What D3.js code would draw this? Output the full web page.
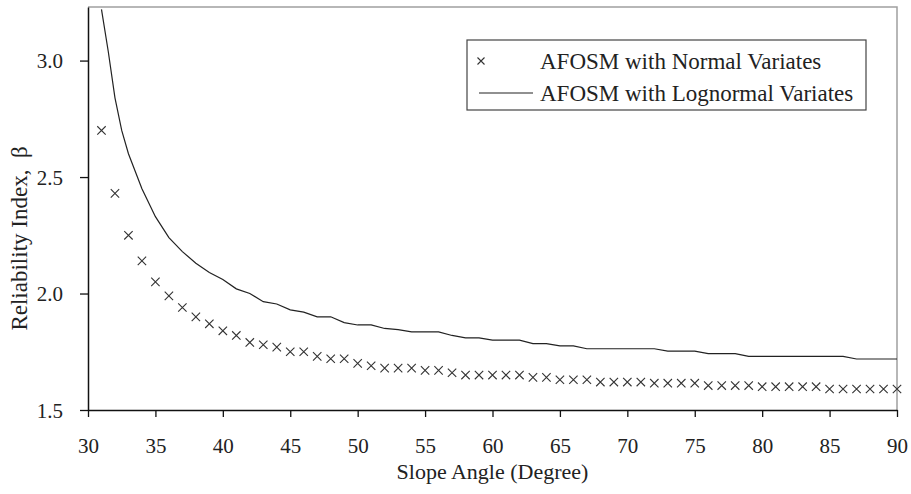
<!DOCTYPE html>
<html>
<head>
<meta charset="utf-8">
<script src="https://cdn.jsdelivr.net/npm/d3@7"></script>
<style>
  body { margin: 0; background: #fff; }
  svg text { font-family: "Liberation Serif", "Times New Roman", serif; fill: #222; }
</style>
</head>
<body>
<div id="chart"></div>
<script>
// slope angle in degrees (normal variates, one point per degree)
const angles = d3.range(31, 91);
const normalBeta = [
  2.70, 2.43, 2.25, 2.14, 2.05, 1.99, 1.94, 1.90, 1.87, 1.84,
  1.82, 1.79, 1.78, 1.77, 1.75, 1.75, 1.73, 1.72, 1.72, 1.70,
  1.69, 1.68, 1.68, 1.68, 1.67, 1.67, 1.66, 1.65, 1.65, 1.65,
  1.65, 1.65, 1.64, 1.64, 1.63, 1.63, 1.63, 1.62, 1.62, 1.62,
  1.62, 1.615, 1.615, 1.615, 1.615, 1.605, 1.605, 1.605, 1.605, 1.60,
  1.60, 1.60, 1.60, 1.60, 1.59, 1.59, 1.59, 1.59, 1.59, 1.59
];

// lognormal curve, a couple of extra points where it bends sharply
const logAngles = [31, 31.5, 32, 32.5, 33, 34, 35, 36, 37, 38, 39, 40,
  41, 42, 43, 44, 45, 46, 47, 48, 49, 50, 51, 52, 53, 54, 55, 56, 57, 58,
  59, 60, 61, 62, 63, 64, 65, 66, 67, 68, 69, 70, 71, 72, 73, 74, 75, 76,
  77, 78, 79, 80, 81, 82, 83, 84, 85, 86, 87, 88, 89, 90];
const lognormalBeta = [3.22, 3.04, 2.84, 2.70, 2.60, 2.45, 2.33, 2.24, 2.18, 2.13, 2.09, 2.06,
  2.02, 2.00, 1.965, 1.955, 1.93, 1.92, 1.90, 1.90, 1.875, 1.865, 1.865, 1.85, 1.845, 1.835, 1.835, 1.835, 1.82, 1.81,
  1.81, 1.80, 1.80, 1.80, 1.785, 1.785, 1.775, 1.775, 1.763, 1.763, 1.763, 1.763, 1.763, 1.763, 1.753, 1.753, 1.753, 1.742,
  1.742, 1.742, 1.73, 1.73, 1.73, 1.73, 1.73, 1.73, 1.73, 1.73, 1.719, 1.719, 1.719, 1.719];

const xTicks = d3.range(30, 91, 5);
const yTicks = [1.5, 2.0, 2.5, 3.0];
const legendLabels = ["AFOSM with Normal Variates", "AFOSM with Lognormal Variates"];

const width = 911;
const height = 494;
const margin = { top: 7, right: 14, bottom: 84, left: 88 };

const svg = d3.select("#chart")
  .append("svg")
  .attr("width", width)
  .attr("height", height);

const x = d3.scaleLinear().domain([30, 90]).range([margin.left, width - margin.right]);
const y = d3.scaleLinear().domain([1.5, 3.23]).range([height - margin.bottom, margin.top]);

// frame: grey top and right edges
svg.append("path")
  .attr("d", `M${x(30)},${y(3.23)}H${x(90)}V${y(1.5)}`)
  .attr("fill", "none")
  .attr("stroke", "#a0a0a0")
  .attr("stroke-width", 1.5);

const xAxis = svg.append("g")
  .attr("transform", `translate(0,${y(1.5)})`)
  .call(d3.axisBottom(x).tickValues(xTicks).tickSize(7).tickPadding(21).tickSizeOuter(0));

const yAxis = svg.append("g")
  .attr("transform", `translate(${x(30)},0)`)
  .call(d3.axisLeft(y).tickValues(yTicks).tickFormat(d3.format(".1f")).tickSize(8).tickPadding(17).tickSizeOuter(0));

[xAxis, yAxis].forEach(a => {
  a.select(".domain").attr("stroke", "#111").attr("stroke-width", 1.5);
  a.selectAll(".tick line").attr("stroke", "#111").attr("stroke-width", 1.3);
  a.selectAll(".tick text").style("font-size", "21px").attr("fill", "#222");
});
yAxis.selectAll(".tick text").attr("dy", "0.35em");

// lognormal line
const line = d3.line().x((d, i) => x(logAngles[i])).y(d => y(d));
svg.append("path")
  .datum(lognormalBeta)
  .attr("d", line)
  .attr("fill", "none")
  .attr("stroke", "#222")
  .attr("stroke-width", 1.2);

// normal crosses
const cross = (cx, cy, r) => `M${cx - r},${cy - r}L${cx + r},${cy + r}M${cx - r},${cy + r}L${cx + r},${cy - r}`;
svg.append("g")
  .selectAll("path")
  .data(normalBeta)
  .join("path")
  .attr("d", (d, i) => cross(x(angles[i]), y(d), 4.2))
  .attr("stroke", "#333")
  .attr("stroke-width", 1.1)
  .attr("fill", "none");

// axis titles
svg.append("text")
  .attr("x", (x(30) + x(90)) / 2)
  .attr("y", 479)
  .attr("text-anchor", "middle")
  .style("font-size", "22px")
  .text("Slope Angle (Degree)");

svg.append("text")
  .attr("transform", `translate(27,${(y(1.5) + y(3.23)) / 2 + 30}) rotate(-90)`)
  .attr("text-anchor", "middle")
  .style("font-size", "23px")
  .style("white-space", "pre")
  .text("Reliability Index,  β");

// legend
const legend = svg.append("g");
legend.append("rect")
  .attr("x", 467).attr("y", 40)
  .attr("width", 399).attr("height", 70)
  .attr("fill", "#fff")
  .attr("stroke", "#444")
  .attr("stroke-width", 1.2);

legend.append("path")
  .attr("d", cross(481, 61, 3.5))
  .attr("stroke", "#333").attr("stroke-width", 1.1).attr("fill", "none");
legend.append("line")
  .attr("x1", 479).attr("x2", 533).attr("y1", 93).attr("y2", 93)
  .attr("stroke", "#222").attr("stroke-width", 1.2);

legend.selectAll("text")
  .data(legendLabels)
  .join("text")
  .attr("x", 540)
  .attr("y", (d, i) => 69 + i * 32)
  .style("font-size", "23px")
  .text(d => d);
</script>
</body>
</html>
